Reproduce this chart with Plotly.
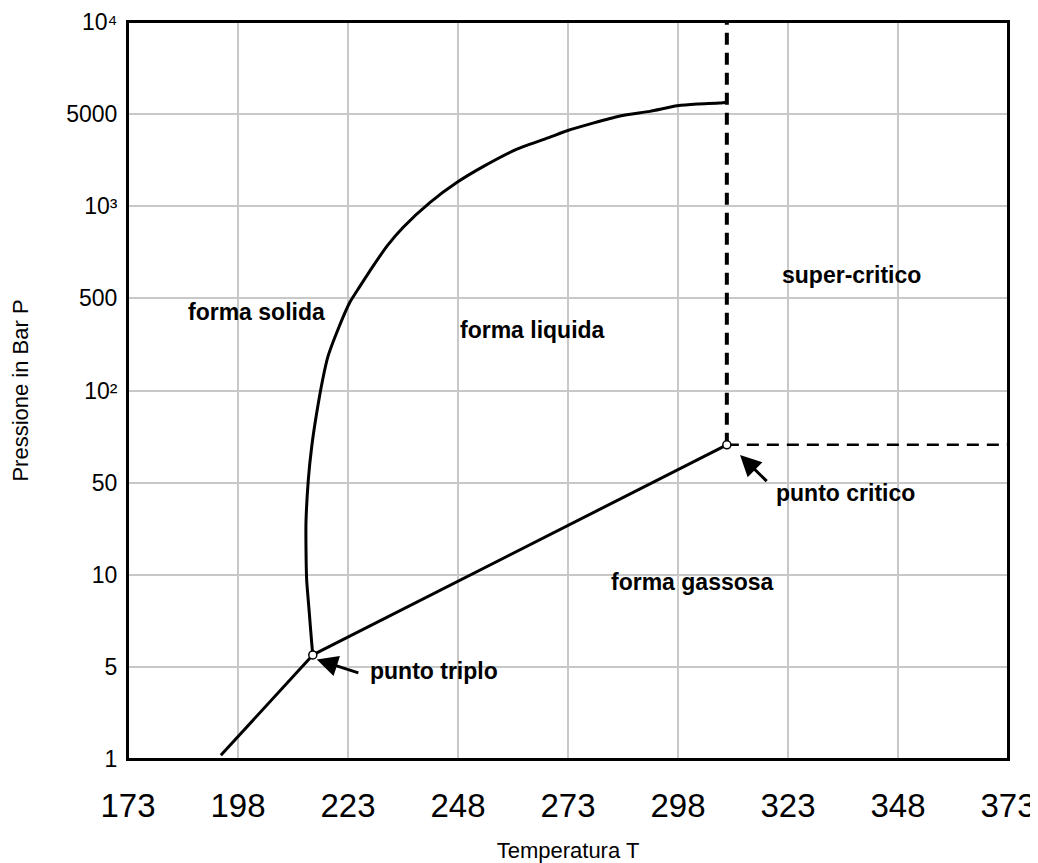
import plotly.graph_objects as go

# Axis ticks
x_ticks = [173, 198, 223, 248, 273, 298, 323, 348, 373]
y_tick_pos = [0, 1, 2, 3, 4, 5, 6, 7, 8]
y_tick_text = ["1", "5", "10", "50", "10²", "500", "10³", "5000", "10⁴"]

# Sublimation line (solid-gas)
sub_T = [194.1, 215.0]
sub_P = [0.04, 1.13]

# Vaporization line (liquid-gas)
vap_T = [215.0, 309.1]
vap_P = [1.13, 3.41]

# Melting curve (solid-liquid)
melt_T = [215.0, 214.75, 214.2, 213.6, 213.45, 213.45, 213.98, 214.75, 215.9, 217.25,
          218.45, 220.7, 223.45, 225.7, 228.7, 231.9, 235.5, 241.6, 247.8, 253.7,
          261.4, 268.9, 272.8, 284.8, 291.6, 297.8, 302.3, 307.5, 309.3]
melt_P = [1.13, 1.26, 1.59, 1.95, 2.30, 2.57, 3.03, 3.39, 3.76, 4.12,
          4.37, 4.66, 4.96, 5.13, 5.35, 5.57, 5.77, 6.04, 6.26, 6.43,
          6.62, 6.75, 6.82, 6.98, 7.03, 7.09, 7.11, 7.12, 7.13]

# Supercritical boundaries
vert_T = [309.1, 309.1]
vert_P = [3.41, 8.02]
horz_T = [309.1, 373]
horz_P = [3.41, 3.41]

# Special points
pts_T = [215.0, 309.1]
pts_P = [1.13, 3.41]

# Region labels
lab_text = ["forma solida", "forma liquida", "super-critico", "forma gassosa"]
lab_T = [202.1, 265.0, 337.5, 301.2]
lab_P = [4.85, 4.66, 5.25, 1.92]

# Arrow annotations: label, label position, arrow tail and head
arr_text = ["punto triplo", "punto critico"]
arr_text_T = [242.5, 336.1]
arr_text_P = [0.95, 2.89]
arr_tail_T = [225.7, 318.5]
arr_tail_P = [0.93, 3.00]
arr_head_T = [215.9, 312.1]
arr_head_P = [1.08, 3.30]

FONT = "Liberation Sans, Arial, sans-serif"

fig = go.Figure()
line_style = dict(color="black", width=3)
fig.add_trace(go.Scatter(x=sub_T, y=sub_P, mode="lines", line=line_style, showlegend=False))
fig.add_trace(go.Scatter(x=vap_T, y=vap_P, mode="lines", line=line_style, showlegend=False))
fig.add_trace(go.Scatter(x=melt_T, y=melt_P, mode="lines",
                         line=dict(color="black", width=3, shape="spline", smoothing=0.6),
                         showlegend=False))
fig.add_trace(go.Scatter(x=vert_T, y=vert_P, mode="lines", line=dict(color="black", width=4, dash="12px,8px"),
                         showlegend=False, cliponaxis=False))
fig.add_trace(go.Scatter(x=horz_T, y=horz_P, mode="lines", line=dict(color="black", width=2.5, dash="12px,8px"),
                         showlegend=False))
fig.add_trace(go.Scatter(x=pts_T, y=pts_P, mode="markers",
                         marker=dict(symbol="circle", size=8, color="white", line=dict(color="black", width=1.5)),
                         showlegend=False, cliponaxis=False))

for t, x, y in zip(lab_text, lab_T, lab_P):
    fig.add_annotation(x=x, y=y, text="<b>" + t + "</b>", showarrow=False,
                       font=dict(family=FONT, size=23, color="black"))

for i, t in enumerate(arr_text):
    fig.add_annotation(x=arr_text_T[i], y=arr_text_P[i], text="<b>" + t + "</b>", showarrow=False,
                       font=dict(family=FONT, size=23, color="black"))
    fig.add_annotation(x=arr_head_T[i], y=arr_head_P[i], ax=arr_tail_T[i], ay=arr_tail_P[i],
                       axref="x", ayref="y", xref="x", yref="y", text="",
                       showarrow=True, arrowhead=2, arrowsize=1.4, arrowwidth=3, arrowcolor="black")

# plot frame
fig.add_shape(type="rect", xref="paper", yref="paper", x0=0, x1=1, y0=0, y1=1,
              line=dict(color="black", width=2), layer="above")

fig.update_layout(
    width=1030, height=855,
    margin=dict(l=120, r=30, t=14, b=104),
    plot_bgcolor="white", paper_bgcolor="white",
    font=dict(family=FONT, color="black"),
)
fig.update_xaxes(range=[173, 373], tickvals=x_ticks, ticktext=[str(v) for v in x_ticks],
                 tickfont=dict(size=33), ticklabelstandoff=16, automargin=False,
                 ticklabeloverflow="allow",
                 showgrid=True, gridcolor="#c8c8c8", gridwidth=1.5,
                 showline=True, linecolor="black", linewidth=2, mirror=True, zeroline=False,
                 title=dict(text="Temperatura T", font=dict(size=22), standoff=25))
fig.update_yaxes(range=[0, 8], tickvals=y_tick_pos, ticktext=y_tick_text,
                 tickfont=dict(size=23), ticklabelstandoff=4, automargin=False,
                 ticklabeloverflow="allow",
                 showgrid=True, gridcolor="#c8c8c8", gridwidth=1.5,
                 showline=True, linecolor="black", linewidth=2, mirror=True, zeroline=False,
                 title=dict(text="Pressione in Bar P", font=dict(size=22), standoff=34))

fig.write_html("out.html")
